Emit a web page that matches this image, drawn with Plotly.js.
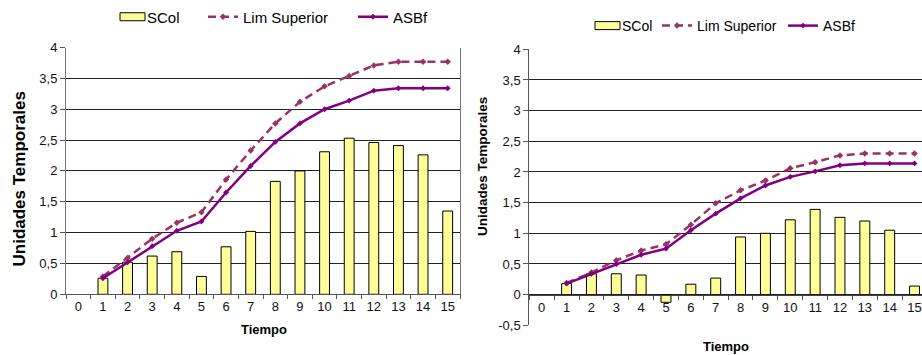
<!DOCTYPE html>
<html>
<head>
<meta charset="utf-8">
<script src="https://cdn.plot.ly/plotly-3.0.1.min.js"></script>
<style>
  html, body { margin: 0; padding: 0; background: #fff; }
  #chart { width: 922px; height: 355px; }
</style>
</head>
<body>
<div id="chart"></div>
<script>
// Time steps (category axis) and the steps that carry data
const categories = ['0','1','2','3','4','5','6','7','8','9','10','11','12','13','14','15'];
const steps = ['1','2','3','4','5','6','7','8','9','10','11','12','13','14','15'];

// First panel
const scolA  = [0.26, 0.52, 0.62, 0.69, 0.29, 0.77, 1.02, 1.83, 2.00, 2.31, 2.53, 2.46, 2.41, 2.26, 1.35];
const limA   = [0.29, 0.59, 0.90, 1.16, 1.33, 1.86, 2.33, 2.77, 3.12, 3.37, 3.54, 3.71, 3.77, 3.77, 3.77];
const asbfA  = [0.26, 0.52, 0.78, 1.03, 1.18, 1.65, 2.08, 2.47, 2.77, 3.00, 3.14, 3.30, 3.34, 3.34, 3.34];

// Second panel
const scolB  = [0.18, 0.34, 0.34, 0.32, -0.125, 0.17, 0.27, 0.94, 1.00, 1.22, 1.39, 1.26, 1.20, 1.05, 0.14];
const limB   = [0.19, 0.36, 0.56, 0.72, 0.82, 1.14, 1.49, 1.70, 1.86, 2.06, 2.16, 2.27, 2.30, 2.30, 2.30];
const asbfB  = [0.18, 0.34, 0.50, 0.65, 0.75, 1.05, 1.32, 1.57, 1.78, 1.92, 2.01, 2.11, 2.14, 2.14, 2.14];

// Tick labels (decimal comma)
const yTicksA = [0, 0.5, 1, 1.5, 2, 2.5, 3, 3.5, 4];
const yTextA  = ['0','0,5','1','1,5','2','2,5','3','3,5','4'];
const yTicksB = [-0.5, 0, 0.5, 1, 1.5, 2, 2.5, 3, 3.5, 4];
const yTextB  = ['-0,5','0','0,5','1','1,5','2','2,5','3','3,5','4'];

const W = 922, H = 355;
const px = v => v / W;
const py = v => 1 - v / H;

const FONT = 'Liberation Sans, Arial, sans-serif';
const BAR_FILL = '#FFFF99';
const LIM_COLOR = '#993366';
const ASBF_COLOR = '#800080';

function series(xa, ya, bars, lim, asbf, legends) {
  return [
    { type: 'bar', name: 'SCol', x: steps, y: bars, xaxis: xa, yaxis: ya, width: 0.4,
      marker: { color: BAR_FILL, line: { color: '#000', width: 1 } },
      legend: legends[0], hoverinfo: 'skip' },
    { type: 'scatter', mode: 'lines+markers', name: 'Lim Superior', x: steps, y: lim, xaxis: xa, yaxis: ya,
      line: { color: LIM_COLOR, width: 2.5, dash: '8px,5px' },
      marker: { symbol: 'diamond', size: 5, color: LIM_COLOR },
      legend: legends[1], hoverinfo: 'skip' },
    { type: 'scatter', mode: 'lines+markers', name: 'ASBf', x: steps, y: asbf, xaxis: xa, yaxis: ya,
      line: { color: ASBF_COLOR, width: 2.5 },
      marker: { symbol: 'diamond', size: 4.5, color: ASBF_COLOR },
      legend: legends[2], hoverinfo: 'skip' }
  ];
}

const data = [
  ...series('x', 'y', scolA, limA, asbfA, ['legend', 'legend2', 'legend3']),
  ...series('x2', 'y2', scolB, limB, asbfB, ['legend4', 'legend5', 'legend6'])
];

const tickFont = { family: FONT, size: 13, color: '#111' };

function legendAt(x, y, size) {
  return { x: px(x), y: py(y), xanchor: 'left', yanchor: 'middle', orientation: 'h',
           bgcolor: 'rgba(0,0,0,0)', borderwidth: 0,
           font: { family: FONT, size: size, color: '#000' } };
}

const layout = {
  width: W, height: H,
  margin: { l: 0, r: 0, t: 0, b: 0 },
  paper_bgcolor: '#fff', plot_bgcolor: '#fff',
  font: { family: FONT },
  showlegend: true,
  bargap: 0,
  xaxis: {
    domain: [px(66), px(460)], anchor: 'y', type: 'category', categoryorder: 'array', categoryarray: categories,
    range: [-0.5, 15.5], tickson: 'boundaries', ticks: 'outside', ticklen: 4, tickcolor: '#555',
    showline: true, linecolor: '#555', linewidth: 1, showgrid: false, zeroline: false,
    tickfont: tickFont, fixedrange: true
  },
  yaxis: {
    domain: [py(294.3), py(47.5)], anchor: 'x', range: [0, 4],
    tickvals: yTicksA, ticktext: yTextA, ticks: 'outside', ticklen: 5, tickcolor: '#555',
    showline: true, linecolor: '#777', linewidth: 1, mirror: true,
    showgrid: true, gridcolor: '#222', gridwidth: 1, zeroline: false,
    tickfont: tickFont, fixedrange: true
  },
  xaxis2: {
    domain: [px(529.3), 1], anchor: 'free', position: py(295), type: 'category',
    categoryorder: 'array', categoryarray: categories,
    range: [-0.5, 15.3], tickson: 'boundaries', ticks: 'outside', ticklen: 4, tickcolor: '#555',
    showline: true, linecolor: '#444', linewidth: 1, showgrid: false, zeroline: false,
    tickfont: tickFont, fixedrange: true
  },
  yaxis2: {
    domain: [py(325.3), py(49.3)], anchor: 'x2', range: [-0.5, 4],
    tickvals: yTicksB, ticktext: yTextB, ticks: 'outside', ticklen: 5, tickcolor: '#555',
    showline: true, linecolor: '#555', linewidth: 1,
    showgrid: true, gridcolor: '#222', gridwidth: 1, zeroline: false,
    tickfont: tickFont, fixedrange: true
  },
  legend:  legendAt(107, 17, 15),
  legend2: legendAt(203, 17, 15),
  legend3: legendAt(353, 17, 15),
  legend4: legendAt(582, 26, 14),
  legend5: legendAt(657, 26, 14),
  legend6: legendAt(783, 26, 14),
  annotations: [
    { text: 'Unidades Temporales', xref: 'paper', yref: 'paper', x: px(18.5), y: py(179),
      textangle: -90, showarrow: false, xanchor: 'center', yanchor: 'middle',
      font: { family: FONT, size: 17, weight: 'bold', color: '#000' } },
    { text: 'Tiempo', xref: 'paper', yref: 'paper', x: px(263.5), y: py(329),
      showarrow: false, xanchor: 'center', yanchor: 'middle',
      font: { family: FONT, size: 13, weight: 'bold', color: '#000' } },
    { text: 'Unidades Temporales', xref: 'paper', yref: 'paper', x: px(482), y: py(167),
      textangle: -90, showarrow: false, xanchor: 'center', yanchor: 'middle',
      font: { family: FONT, size: 13.5, weight: 'bold', color: '#000' } },
    { text: 'Tiempo', xref: 'paper', yref: 'paper', x: px(725.8), y: py(346.5),
      showarrow: false, xanchor: 'center', yanchor: 'middle',
      font: { family: FONT, size: 13, weight: 'bold', color: '#000' } }
  ]
};

// Wide, flat swatch for the bar series in every legend
function reshapeBarSwatches() {
  document.querySelectorAll('#chart g.legendpoints path').forEach(p => {
    const d = (p.getAttribute('d') || '').replace(/\s/g, '');
    if (p.classList.contains('legendbar') || /^M6,6H-6V-6H6Z$/.test(d)) {
      p.setAttribute('d', 'M18,4H-7V-4H18Z');
    }
  });
}

Plotly.newPlot('chart', data, layout, { displayModeBar: false, staticPlot: true })
  .then(gd => {
    reshapeBarSwatches();
    gd.on('plotly_afterplot', reshapeBarSwatches);
  });
</script>
</body>
</html>
